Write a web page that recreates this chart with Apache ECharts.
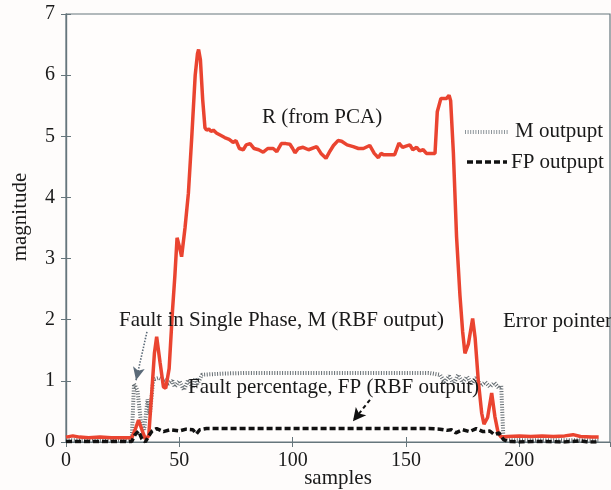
<!DOCTYPE html>
<html>
<head>
<meta charset="utf-8">
<script src="https://cdn.jsdelivr.net/npm/echarts@6/dist/echarts.min.js"></script>
<style>
html,body{margin:0;padding:0;background:#fefcfb;}
#chart{width:611px;height:490px;}
</style>
</head>
<body>
<div id="chart"></div>
<script>
// ---- data ----
const xTicks = [0, 50, 100, 150, 200];
const yTicks = [0, 1, 2, 3, 4, 5, 6, 7];

const rX = [0,3,6,10,15,20,25,29,30.5,32,33.5,35,36.5,38,39,40,41.5,43,44,45.5,47,48,49,50,51,52.5,54,55.5,57,58,58.5,59.3,60.3,61.3,62,63,64,65,66.5,68,70,72,73.7,75,76.5,78.2,79.5,81.2,83,85,87,89,91.4,93,95,97,98.8,100,101,102.5,104.6,107,110.6,112.5,114.7,116.5,118,120,121.6,124,126.7,129,131.2,134,136,137.8,139,140,142,145,146.9,148.5,150,151.7,153,154.7,156,157.6,159,160.6,162.8,163.8,165.4,167.9,169,169.7,170.9,172.3,173.8,175,176,177.5,179.4,180.5,181.9,183.4,184.4,186,187.8,189.2,190.7,192,195,200,205,210,215,220,223.7,227,232,235];
const rY = [0.08,0.1,0.08,0.07,0.08,0.07,0.07,0.07,0.2,0.36,0.2,0.05,0.1,0.9,1.45,1.72,1.3,0.9,0.88,1.2,2.16,2.7,3.34,3.2,3.03,3.5,4.07,5.0,6.0,6.35,6.42,6.25,5.6,5.14,5.1,5.12,5.08,5.1,5.05,5.02,4.98,4.95,4.9,4.93,4.8,4.78,4.86,4.88,4.8,4.78,4.74,4.8,4.8,4.75,4.88,4.88,4.87,4.8,4.73,4.8,4.82,4.78,4.83,4.72,4.64,4.76,4.85,4.93,4.92,4.86,4.83,4.8,4.8,4.85,4.72,4.65,4.72,4.7,4.7,4.7,4.89,4.82,4.84,4.86,4.78,4.82,4.76,4.78,4.72,4.72,4.72,5.4,5.62,5.62,5.67,5.58,4.73,3.36,2.4,1.8,1.45,1.6,2.02,1.7,1.0,0.47,0.29,0.4,0.8,0.42,0.14,0.08,0.09,0.1,0.09,0.1,0.09,0.1,0.12,0.09,0.08,0.08];

const mX = [0,29,30,31.5,33,34.5,36,37,38.5,41,44,45,47,48,50,52,54,56,57,58,60,70,80,100,120,140,160,165,167,169,171,173,175,177,179,181,183,185,187,189,191,192,193,200,235];
const mY = [0.03,0.03,0.95,0.85,0.35,0.2,0.7,0.45,1.02,1.05,1.0,0.95,1.0,0.9,1.0,0.85,1.02,0.88,1.05,0.95,1.1,1.12,1.13,1.13,1.13,1.13,1.13,1.1,0.98,1.08,0.95,1.1,0.97,1.07,0.95,1.05,0.92,0.98,0.9,0.97,0.88,0.92,0.03,0.03,0.03];

const fpX = [0,29,30.5,32,33.5,35,36.5,38,40,43,46,50,53,56,57.5,59,62,80,100,120,140,160,165,168,170,172,175,178,181,184,187,189,191,193,195,200,210,220,227,230,235];
const fpY = [0.01,0.01,0.12,0.18,0.05,0.0,0.1,0.18,0.22,0.17,0.2,0.18,0.21,0.2,0.13,0.2,0.22,0.22,0.22,0.22,0.22,0.22,0.21,0.19,0.2,0.15,0.2,0.17,0.22,0.17,0.18,0.12,0.15,0.04,0.01,0.0,0.01,0.0,0.02,0.0,0.0];

const seriesNames = ['R (from PCA)', 'M outpupt', 'FP outpupt'];

const pairs = (xs, ys) => xs.map((x, i) => [x, ys[i]]);

const FONT = "'Liberation Serif', 'DejaVu Serif', serif";
const AX = '#66767c';
const TXT = '#1a1a1a';

const M_STYLE = {color: '#656d72', width: 4, type: [1, 1.6]};
const FP_STYLE = {color: '#111', width: 3.5, type: [6, 3]};

const chart = echarts.init(document.getElementById('chart'), null, {renderer: 'canvas'});

const baseAxis = {
  axisLine: {show: true, lineStyle: {color: AX, width: 1.2}},
  axisTick: {show: true, inside: true, length: 5, lineStyle: {color: AX}},
  splitLine: {show: false}
};

chart.setOption({
  backgroundColor: '#fefcfb',
  animation: false,
  grid: {left: 66, top: 14, right: 1, bottom: 48, outerBoundsMode: 'none', containLabel: false,
    show: true, backgroundColor: '#fffdfc', borderColor: AX, borderWidth: 1.2},
  xAxis: [
    Object.assign({}, baseAxis, {
      type: 'value', min: 0, max: 240, interval: 50, position: 'bottom',
      axisLabel: {fontFamily: FONT, fontSize: 20, color: TXT, margin: 9, showMaxLabel: false,
        formatter: v => xTicks.includes(v) ? String(v) : ''}
    }),
    Object.assign({}, baseAxis, {
      type: 'value', min: 0, max: 240, interval: 50, position: 'top',
      axisLabel: {show: false}
    })
  ],
  yAxis: [
    Object.assign({}, baseAxis, {
      type: 'value', min: 0, max: 7, interval: 1, position: 'left',
      axisLabel: {fontFamily: FONT, fontSize: 20, color: TXT, margin: 11,
        formatter: v => yTicks.includes(v) ? String(v) : ''}
    }),
    Object.assign({}, baseAxis, {
      type: 'value', min: 0, max: 7, interval: 1, position: 'right',
      axisLabel: {show: false}
    })
  ],
  series: [
    {
      name: seriesNames[0], type: 'line', data: pairs(rX, rY),
      showSymbol: false, symbol: 'none', z: 3,
      lineStyle: {color: '#ea4430', width: 3.5}
    },
    {
      name: seriesNames[1], type: 'line', data: pairs(mX, mY),
      showSymbol: false, symbol: 'none', z: 2,
      lineStyle: M_STYLE,
      markLine: {
        silent: true, symbol: ['none', 'arrow'], symbolSize: [9, 13], label: {show: false},
        lineStyle: {color: '#5b6a78', width: 1.6, type: [1.5, 1.5]},
        data: [[{coord: [35.7, 1.8]}, {coord: [30.9, 1.01]}]]
      }
    },
    {
      name: seriesNames[2], type: 'line', data: pairs(fpX, fpY),
      showSymbol: false, symbol: 'none', z: 4,
      lineStyle: FP_STYLE,
      markLine: {
        silent: true, symbol: ['none', 'arrow'], symbolSize: [10, 13], label: {show: false},
        lineStyle: {color: '#111', width: 2, type: [4, 3]},
        data: [[{coord: [134.1, 0.69]}, {coord: [126.6, 0.34]}]]
      }
    }
  ],
  graphic: [
    {type: 'text', x: 20, y: 217, rotation: Math.PI / 2,
      style: {text: 'magnitude', font: '21px ' + FONT, fill: TXT, align: 'center', verticalAlign: 'middle'}},
    {type: 'text', x: 338, y: 478,
      style: {text: 'samples', font: '21px ' + FONT, fill: TXT, align: 'center', verticalAlign: 'middle'}},
    {type: 'text', x: 262, y: 117, z: 10,
      style: {text: 'R (from PCA)', font: '21px ' + FONT, fill: TXT, verticalAlign: 'middle'}},
    {type: 'text', x: 119, y: 320, z: 10,
      style: {text: 'Fault in Single Phase, M (RBF output)', font: '21px ' + FONT, fill: TXT, verticalAlign: 'middle'}},
    {type: 'text', x: 503, y: 321, z: 10,
      style: {text: 'Error pointer', font: '21px ' + FONT, fill: TXT, verticalAlign: 'middle'}},
    {type: 'text', x: 188, y: 387, z: 10,
      style: {text: 'Fault percentage, FP (RBF output)', font: '21px ' + FONT, fill: TXT, verticalAlign: 'middle'}},
    // key for M and FP
    {type: 'line', z: 10, shape: {x1: 465, y1: 132, x2: 508, y2: 132},
      style: {stroke: '#8d959a', lineWidth: 4, lineDash: [1, 1.6]}},
    {type: 'text', x: 515, y: 131, z: 10,
      style: {text: seriesNames[1], font: '21px ' + FONT, fill: TXT, verticalAlign: 'middle'}},
    {type: 'line', z: 10, shape: {x1: 467, y1: 162, x2: 507, y2: 162},
      style: {stroke: '#111', lineWidth: 3.5, lineDash: [6, 3]}},
    {type: 'text', x: 511, y: 162, z: 10,
      style: {text: seriesNames[2], font: '21px ' + FONT, fill: TXT, verticalAlign: 'middle'}}
  ]
});
</script>
</body>
</html>
